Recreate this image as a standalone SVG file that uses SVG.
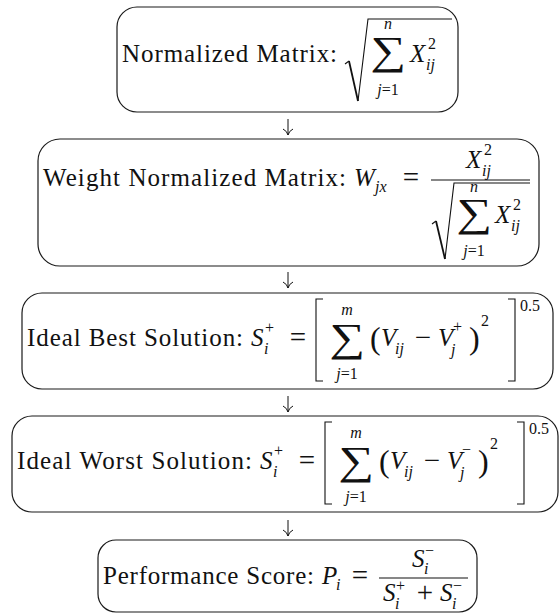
<svg xmlns="http://www.w3.org/2000/svg" width="560" height="613" viewBox="0 0 560 613">
<style>
.box{fill:#fff;stroke:#1a1a1a;stroke-width:1.2}
text{font-family:"Liberation Serif","Times New Roman",serif;fill:#111}
.t{font-size:25px}
.m{font-size:25px;font-style:italic}
.op{font-size:29px;text-anchor:middle}
.s{font-size:16px;font-style:italic}
.sn{font-size:16px}
.c{text-anchor:middle}
.big{font-size:40px;text-anchor:middle}
.par{font-size:32px}
.ln{fill:none;stroke:#111;stroke-width:1.1}
.rd{fill:none;stroke:#111;stroke-width:1.8}
.arr{fill:none;stroke:#111;stroke-width:1}
</style>
<rect width="560" height="613" fill="#fff"/>
<g id="connectors">
<path class="arr" d="M288 119 V135 M283 129 Q287 131 288 135 Q289 131 293 129"/>
<path class="arr" d="M288 272 V288 M283 282 Q287 284 288 288 Q289 284 293 282"/>
<path class="arr" d="M288 396 V412 M283 406 Q287 408 288 412 Q289 408 293 406"/>
<path class="arr" d="M288 520 V536 M283 530 Q287 532 288 536 Q289 532 293 530"/>
</g>
<g id="n1">
<rect class="box" x="117" y="7" width="341" height="105" rx="20"/>
<text class="t" x="122" y="62" textLength="215" lengthAdjust="spacing">Normalized Matrix:</text>
<path class="rd" d="M349 61 L358 101"/>
<path class="ln" d="M345 64 L349 61 M358 101 L368 19 H452"/>
<text class="big" transform="translate(388 64) scale(1.25 1)">∑</text>
<text class="s c" x="388" y="29">n</text>
<text class="sn c" x="388" y="95"><tspan font-style="italic">j</tspan>=1</text>
<text class="m" x="410" y="62">X</text>
<text class="sn" x="428" y="49">2</text>
<text class="s" x="426" y="70">ij</text>
</g>
<g id="n2">
<rect class="box" x="38" y="139" width="501" height="127" rx="22"/>
<text class="t" x="43" y="186" textLength="303" lengthAdjust="spacing">Weight Normalized Matrix:</text>
<text class="m" x="354" y="186">W</text>
<text class="s" x="375" y="192">jx</text>
<text class="op" x="411" y="187">=</text>
<path class="ln" d="M431 180 H530"/>
<text class="m" x="466" y="168">X</text>
<text class="sn" x="484" y="155">2</text>
<text class="s" x="482" y="176">ij</text>
<path class="rd" d="M436 221 L445 259"/>
<path class="ln" d="M432 224 L436 221 M445 259 L454 183 H530"/>
<text class="big" transform="translate(474 226) scale(1.25 1)">∑</text>
<text class="s c" x="474" y="192">n</text>
<text class="sn c" x="474" y="256"><tspan font-style="italic">j</tspan>=1</text>
<text class="m" x="495" y="223">X</text>
<text class="sn" x="513" y="210">2</text>
<text class="s" x="511" y="231">ij</text>
</g>
<g id="n3">
<rect class="box" x="22" y="293" width="531" height="96" rx="20"/>
<text class="t" x="27" y="346" textLength="216" lengthAdjust="spacing">Ideal Best Solution:</text>
<text class="m" x="251" y="346">S</text>
<text class="sn" x="265" y="333">+</text>
<text class="s" x="264" y="354">i</text>
<text class="op" x="298" y="347">=</text>
<path class="ln" d="M323 299 H316 V381 H323"/>
<text class="big" transform="translate(347 351) scale(1.25 1)">∑</text>
<text class="s c" x="347" y="315">m</text>
<text class="sn c" x="347" y="379"><tspan font-style="italic">j</tspan>=1</text>
<text class="par" x="370" y="349">(</text>
<text class="m" x="381" y="346">V</text>
<text class="s" x="395" y="354">ij</text>
<text class="op" x="423" y="347">−</text>
<text class="m" x="438" y="346">V</text>
<text class="sn" x="453" y="332">+</text>
<text class="s" x="451" y="355">j</text>
<text class="par" x="469" y="349">)</text>
<text class="sn" x="481" y="326">2</text>
<path class="ln" d="M508 299 H515 V381 H508"/>
<text class="sn" x="520" y="311">0.5</text>
</g>
<g id="n4">
<rect class="box" x="12" y="416" width="546" height="96" rx="20"/>
<text class="t" x="17" y="469" textLength="235" lengthAdjust="spacing">Ideal Worst Solution:</text>
<text class="m" x="260" y="469">S</text>
<text class="sn" x="274" y="456">+</text>
<text class="s" x="273" y="477">i</text>
<text class="op" x="307" y="470">=</text>
<path class="ln" d="M332 422 H325 V504 H332"/>
<text class="big" transform="translate(356 474) scale(1.25 1)">∑</text>
<text class="s c" x="356" y="438">m</text>
<text class="sn c" x="356" y="502"><tspan font-style="italic">j</tspan>=1</text>
<text class="par" x="379" y="472">(</text>
<text class="m" x="390" y="469">V</text>
<text class="s" x="404" y="477">ij</text>
<text class="op" x="432" y="470">−</text>
<text class="m" x="447" y="469">V</text>
<text class="sn" x="462" y="455">−</text>
<text class="s" x="460" y="478">j</text>
<text class="par" x="478" y="472">)</text>
<text class="sn" x="490" y="449">2</text>
<path class="ln" d="M517 422 H524 V504 H517"/>
<text class="sn" x="529" y="434">0.5</text>
</g>
<g id="n5">
<rect class="box" x="98" y="540" width="379" height="72" rx="18"/>
<text class="t" x="103" y="584" textLength="211" lengthAdjust="spacing">Performance Score:</text>
<text class="m" x="322" y="584">P</text>
<text class="s" x="336" y="590">i</text>
<text class="op" x="360" y="585">=</text>
<path class="ln" d="M379 578 H468"/>
<text class="m" x="412" y="567">S</text>
<text class="sn" x="425" y="556">−</text>
<text class="s" x="424" y="574">i</text>
<text class="m" x="383" y="601">S</text>
<text class="sn" x="396" y="591">+</text>
<text class="s" x="395" y="609">i</text>
<text class="op" x="425" y="602">+</text>
<text class="m" x="440" y="601">S</text>
<text class="sn" x="453" y="591">−</text>
<text class="s" x="452" y="609">i</text>
</g>
</svg>
